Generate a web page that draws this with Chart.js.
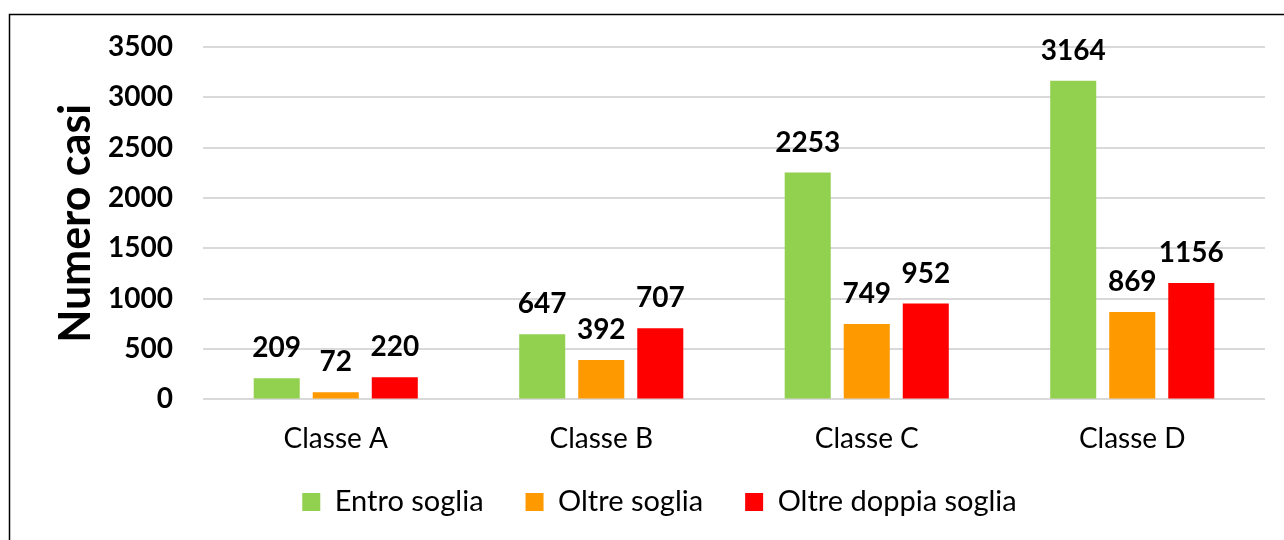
<!DOCTYPE html>
<html>
<head>
<meta charset="utf-8">
<script src="https://cdn.jsdelivr.net/npm/chart.js@4/dist/chart.umd.min.js"></script>
<style>
  html, body { margin: 0; padding: 0; background: #fff; }
  #wrap { width: 1284px; height: 540px; position: relative; }
</style>
</head>
<body>
<div id="wrap"><canvas id="c" width="1284" height="540"></canvas></div>
<script>
const categories = ['Classe A', 'Classe B', 'Classe C', 'Classe D'];
const seriesNames = ['Entro soglia', 'Oltre soglia', 'Oltre doppia soglia'];
const entroSoglia = [209, 647, 2253, 3164];
const oltreSoglia = [72, 392, 749, 869];
const oltreDoppiaSoglia = [220, 707, 952, 1156];
const yTicks = [0, 500, 1000, 1500, 2000, 2500, 3000, 3500];
const colors = ['#92D050', '#FF9900', '#FF0000'];

const FONT = 'Lato, "Open Sans", sans-serif';
const LEGEND_PAD = 42;
const LEGEND_FONT = 29;
const LEGEND_CENTER_Y = 502;
const LEGEND_SHIFT_X = 27;

const borderPlugin = {
  id: 'frame',
  afterDraw(chart) {
    const ctx = chart.ctx;
    ctx.save();
    ctx.strokeStyle = '#000';
    ctx.lineWidth = 1.5;
    ctx.beginPath();
    ctx.moveTo(9.5, 540);
    ctx.lineTo(9.5, 14.5);
    ctx.lineTo(1284, 14.5);
    ctx.stroke();
    ctx.restore();
  }
};

const legendPlace = {
  id: 'legendPlace',
  afterLayout(chart) {
    const L = chart.legend;
    if (!L) return;
    const top = LEGEND_CENTER_Y - LEGEND_FONT / 2 - LEGEND_PAD;
    L.top = top;
    L.bottom = chart.height;
    L.height = chart.height - top;
    L.left += LEGEND_SHIFT_X;
    L.right += LEGEND_SHIFT_X;
  }
};

const valueLabels = {
  id: 'valueLabels',
  afterDatasetsDraw(chart) {
    const ctx = chart.ctx;
    ctx.save();
    ctx.font = '700 28px ' + FONT;
    ctx.fillStyle = '#000';
    ctx.textAlign = 'center';
    ctx.textBaseline = 'alphabetic';
    chart.data.datasets.forEach((ds, i) => {
      chart.getDatasetMeta(i).data.forEach((bar, j) => {
        ctx.fillText(String(ds.data[j]), bar.x, bar.y - 21);
      });
    });
    ctx.restore();
  }
};

new Chart(document.getElementById('c'), {
  type: 'bar',
  data: {
    labels: categories,
    datasets: [
      { label: seriesNames[0], data: entroSoglia, backgroundColor: colors[0] },
      { label: seriesNames[1], data: oltreSoglia, backgroundColor: colors[1] },
      { label: seriesNames[2], data: oltreDoppiaSoglia, backgroundColor: colors[2] }
    ]
  },
  options: {
    responsive: false,
    animation: false,
    devicePixelRatio: 1,
    layout: { padding: { left: 0, right: 19, top: 47, bottom: 0 } },
    datasets: { bar: { categoryPercentage: 0.667, barPercentage: 0.78 } },
    plugins: {
      tooltip: { enabled: false },
      legend: {
        position: 'bottom',
        maxHeight: 61,
        labels: {
          font: { family: FONT, size: LEGEND_FONT, weight: '400' },
          color: '#000',
          boxWidth: 18,
          boxHeight: 18,
          padding: LEGEND_PAD
        }
      }
    },
    scales: {
      x: {
        grid: { display: false, drawTicks: false },
        border: { display: false },
        ticks: { font: { family: FONT, size: 28, weight: '400' }, color: '#000', padding: 23 }
      },
      y: {
        min: 0,
        max: 3500,
        afterFit(scale) { scale.width = 203; },
        afterBuildTicks(scale) { scale.ticks = yTicks.map(v => ({ value: v })); },
        grid: { color: '#D9D9D9', lineWidth: 2, drawTicks: false },
        border: { display: false },
        ticks: {
          font: { family: FONT, size: 28, weight: '700' },
          color: '#000',
          padding: 30,
          callback: (v) => String(v)
        },
        title: {
          display: true,
          text: 'Numero casi',
          font: { family: FONT, size: 43, weight: '700' },
          color: '#000',
          padding: { top: 50, bottom: 0 }
        }
      }
    }
  },
  plugins: [borderPlugin, legendPlace, valueLabels]
});
</script>
</body>
</html>
